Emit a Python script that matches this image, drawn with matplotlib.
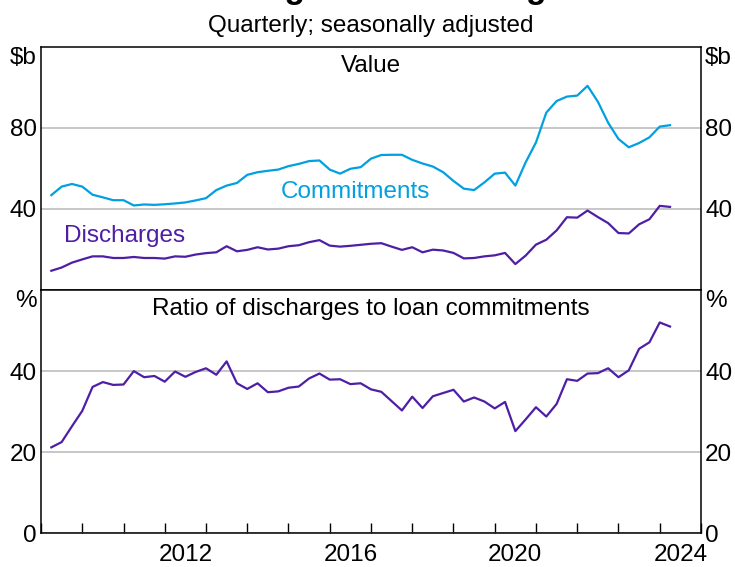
import matplotlib
matplotlib.use("Agg")
import matplotlib.pyplot as plt
import numpy as np

plt.rcParams['font.family'] = ['Liberation Sans', 'DejaVu Sans']
plt.rcParams['font.size'] = 17.5

# quarterly data, 2009 Q2 .. 2024 Q2 (plotted at quarter start + 0.25 offset)
start_year = 2009.25
commitments = [46.8, 51.0, 52.3, 51.0, 47.0, 45.7, 44.3, 44.3, 41.7, 42.2,
               42.0, 42.3, 42.7, 43.2, 44.2, 45.3, 49.3, 51.5, 52.8, 56.8,
               58.1, 58.8, 59.4, 61.1, 62.2, 63.6, 63.9, 59.4, 57.4, 59.8,
               60.6, 64.8, 66.6, 66.7, 66.7, 64.2, 62.4, 60.9, 58.1, 53.8,
               50.0, 49.3, 53.1, 57.4, 57.9, 51.5, 63.0, 72.8, 87.5, 93.2,
               95.4, 95.9, 100.7, 92.9, 82.5, 74.5, 70.4, 72.5, 75.3, 80.6,
               81.3]
discharges = [9.5, 11.1, 13.5, 15.1, 16.6, 16.6, 15.8, 15.8, 16.3, 15.8,
              15.8, 15.5, 16.6, 16.4, 17.5, 18.2, 18.6, 21.6, 19.1, 19.8,
              21.1, 20.0, 20.4, 21.6, 22.1, 23.6, 24.6, 21.9, 21.4, 21.8,
              22.3, 22.8, 23.1, 21.4, 19.8, 21.1, 18.6, 19.9, 19.5, 18.3,
              15.6, 15.8, 16.6, 17.1, 18.3, 12.8, 17.0, 22.4, 24.8, 29.4,
              35.9, 35.7, 39.2, 36.0, 33.0, 28.1, 27.9, 32.4, 34.9, 41.5,
              41.0]
ratio = [21.2, 22.5, 26.4, 30.2, 36.1, 37.3, 36.6, 36.7, 40.0, 38.5,
         38.8, 37.4, 39.9, 38.6, 39.8, 40.7, 39.1, 42.4, 37.0, 35.6,
         37.0, 34.8, 35.0, 35.9, 36.2, 38.2, 39.4, 37.9, 38.0, 36.8,
         37.0, 35.5, 34.9, 32.6, 30.3, 33.7, 30.9, 33.8, 34.6, 35.4,
         32.5, 33.5, 32.5, 30.8, 32.4, 25.2, 28.1, 31.1, 28.8, 31.9,
         38.0, 37.6, 39.4, 39.5, 40.7, 38.5, 40.2, 45.5, 47.1, 52.0,
         51.0]
dates = start_year + 0.25 * np.arange(len(commitments))

year_labels = [2012, 2016, 2020, 2024]

c_blue = '#00a0e1'
c_purple = '#4e1fa5'
grid_c = '#bdbdbd'

fig = plt.figure(figsize=(7.35, 5.67), dpi=100)
ax1 = fig.add_axes([0.0558, 0.4885, 0.8979, 0.4291])
ax2 = fig.add_axes([0.0558, 0.0594, 0.8979, 0.4291])

ax1.plot(dates, commitments, color=c_blue, lw=1.6)
ax1.plot(dates, discharges, color=c_purple, lw=1.6)
ax2.plot(dates, ratio, color=c_purple, lw=1.6)

ax1.set_ylim(0, 120)
ax2.set_ylim(0, 60)
ax1.set_yticks([40, 80])
ax2.set_yticks([0, 20, 40])

for ax, unit in [(ax1, '$b'), (ax2, '%')]:
    ax.set_xlim(2009, 2025)
    ax.set_xticks(np.arange(2009, 2026))
    ax.set_xticks([y + 0.5 for y in year_labels], minor=True)
    ax.tick_params(axis='x', which='major', direction='in', length=7,
                   width=1, labelbottom=False, color='black')
    ax.tick_params(axis='x', which='minor', length=0, pad=8)
    ax.tick_params(axis='y', length=0, pad=3, labelright=True)
    ax.grid(axis='y', color=grid_c, lw=1.2)
    ax.set_axisbelow(True)
    for s in ax.spines.values():
        s.set_linewidth(1.1)
    ax.text(-0.006, 1.0, unit, transform=ax.transAxes, ha='right', va='top')
    ax.text(1.006, 1.0, unit, transform=ax.transAxes, ha='left', va='top')

ax1.tick_params(axis='x', which='both', length=0)
ax2.set_xticklabels([str(y) for y in year_labels], minor=True)

ax1.text(0.5, 0.92, 'Value', transform=ax1.transAxes, ha='center', va='center')
ax1.text(0.476, 0.403, 'Commitments', transform=ax1.transAxes, ha='center',
         va='center', color=c_blue)
ax1.text(0.127, 0.222, 'Discharges', transform=ax1.transAxes, ha='center',
         va='center', color=c_purple)
ax2.text(0.5, 0.92, 'Ratio of discharges to loan commitments',
         transform=ax2.transAxes, ha='center', va='center')

fig.text(0.513, 1.0035, 'Housing Loan Discharges', ha='center', va='baseline',
         fontsize=24, fontweight='bold')
fig.text(0.505, 0.9436, 'Quarterly; seasonally adjusted', ha='center',
         va='baseline')

fig.savefig('out.png', dpi=100)
